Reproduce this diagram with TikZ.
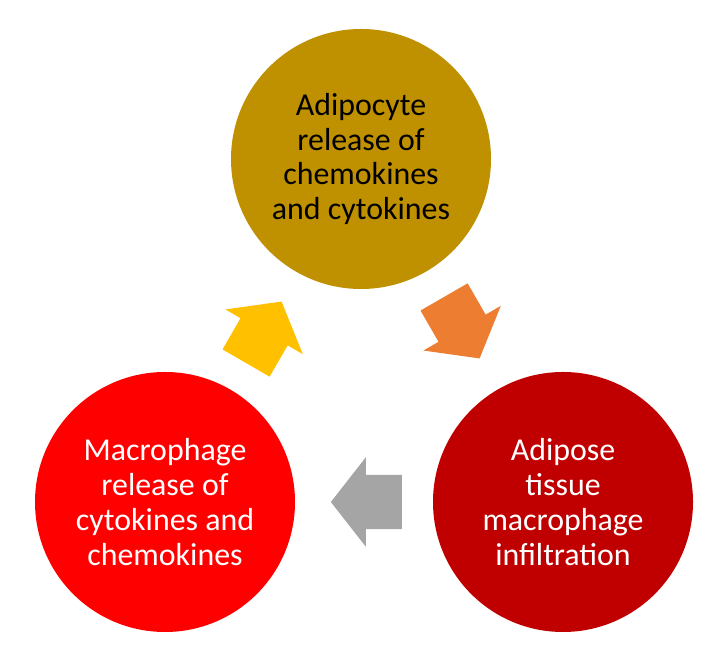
\documentclass[tikz,border=0pt]{standalone}
\usepackage{fontspec}
\setmainfont{Carlito}
\usepackage{xcolor}
\usetikzlibrary{shapes.arrows}

\definecolor{gold}{HTML}{BF9000}
\definecolor{brightred}{HTML}{FF0000}
\definecolor{darkred}{HTML}{C00000}
\definecolor{amber}{HTML}{FFC000}
\definecolor{orangeacc}{HTML}{ED7D31}
\definecolor{greyacc}{HTML}{A5A5A5}

\begin{document}
\begin{tikzpicture}[x=1bp, y=1bp,
    stage/.style={circle, minimum size=260bp, inner sep=0pt, align=center,
      font=\fontsize{32}{35}\selectfont},
    blockarrow/.style={single arrow, draw=none, inner xsep=0pt, inner ysep=27bp,
      minimum height=71bp, single arrow head extend=17.5bp,
      single arrow tip angle=104}]
  \useasboundingbox (0,0) rectangle (714,659);
  \node[stage, fill=gold, text=black] (adipo) at (361,500)
    {Adipocyte\\release of\\chemokines\\and cytokines};
  \node[stage, fill=darkred, text=white] (infil) at (563,157)
    {Adipose\\tissue\\macrophage\\infiltration};
  \node[stage, fill=brightred, text=white] (macro) at (165,157)
    {Macrophage\\release of\\cytokines and\\chemokines};
  % cycle arrows
  \node[blockarrow, fill=orangeacc, rotate=-60] (a1) at (456.5,340.5) {};
  \node[blockarrow, fill=greyacc, rotate=180] (a2) at (377,157) {};
  \node[blockarrow, fill=amber, rotate=60] (a3) at (258.5,317.5) {};
\end{tikzpicture}
\end{document}
